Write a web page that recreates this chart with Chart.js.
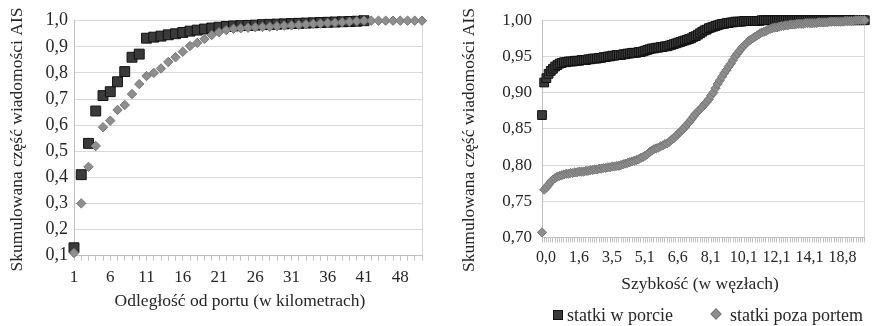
<!DOCTYPE html>
<html><head><meta charset="utf-8">
<script src="https://cdn.jsdelivr.net/npm/chart.js@4.4.1/dist/chart.umd.min.js"></script>
<style>
html,body{margin:0;padding:0;background:#fff;width:872px;height:326px;overflow:hidden;}
#wrap{position:relative;width:872px;height:326px;font-family:"Liberation Serif",serif;color:#262626;}
.cv{position:absolute;top:0;}
.lgt{position:absolute;font-size:18px;line-height:18px;white-space:nowrap;}
.lgm{position:absolute;box-sizing:border-box;}
</style></head><body>
<div id="wrap">
<canvas id="c1" class="cv" width="436" height="326" style="left:0;width:436px;height:326px"></canvas>
<canvas id="c2" class="cv" width="436" height="326" style="left:436px;width:436px;height:326px"></canvas>
<div id="legend"></div>
</div>
<script>
// ---------- DATA ----------
const seriesNames = ['statki w porcie', 'statki poza portem'];
const yTitle = 'Skumulowana część wiadomości AIS';
const distTitle = 'Odległość od portu (w kilometrach)';
const speedTitle = 'Szybkość (w węzłach)';

// Left chart: distance categories (km)
const distCategories = ['1','2','3','4','5','6','7','8','9','10','11','12','13','14','15','16','17','18','19','20',
  '21','22','23','24','25','26','27','28','29','30','31','32','33','34','35','36','37','38','39','40','41',
  '42','43','45','46','48','49','50','52'];
const distInPort = [0.13,0.41,0.53,0.654,0.713,0.728,0.766,0.805,0.860,0.872,
  0.933,0.937,0.941,0.946,0.950,0.955,0.960,0.964,0.968,0.972,
  0.975,0.978,0.980,0.981,0.982,0.983,0.985,0.986,0.987,0.988,
  0.989,0.990,0.991,0.992,0.993,0.994,0.995,0.996,0.997,0.998,1.000];
const distOutPort = [0.11,0.30,0.44,0.52,0.592,0.617,0.658,0.677,0.719,0.757,
  0.788,0.800,0.817,0.842,0.860,0.881,0.903,0.915,0.930,0.945,
  0.956,0.964,0.969,0.971,0.973,0.975,0.976,0.977,0.979,0.981,
  0.982,0.984,0.986,0.988,0.989,0.991,0.992,0.994,0.996,0.998,
  1.000,1.000,1.000,1.000,1.000,1.000,1.000,1.000,1.000];
const distYTicks = {min:0.1, max:1.0, step:0.1, decimals:1};

// Right chart: speed categories (knots)
const speedCategories = ['0,0','0,1','0,2','0,3','0,4','0,5','0,6','0,7','0,8','0,9','1,0','1,1','1,2','1,3','1,5',
  '1,6','1,7','1,8','1,9','2,0','2,1','2,3','2,4','2,5','2,7','2,8','2,9','3,1','3,2','3,3',
  '3,5','3,6','3,7','3,8','3,9','4,0','4,1','4,2','4,3','4,4','4,6','4,7','4,8','4,9','5,0',
  '5,1','5,2','5,3','5,4','5,5','5,6','5,7','5,8','5,9','6,0','6,1','6,2','6,3','6,4','6,5',
  '6,6','6,7','6,8','6,9','7,0','7,1','7,2','7,3','7,4','7,5','7,6','7,7','7,8','7,9','8,0',
  '8,1','8,2','8,3','8,5','8,6','8,7','8,9','9,0','9,1','9,3','9,4','9,5','9,7','9,8','9,9',
  '10,1','10,2','10,3','10,5','10,6','10,7','10,9','11,0','11,2','11,3','11,4','11,6','11,7','11,8','12,0',
  '12,1','12,2','12,3','12,5','12,6','12,8','12,9','13,0','13,2','13,3','13,5','13,6','13,7','13,9','14,0',
  '14,1','14,3','14,5','14,8','15,0','15,3','15,6','15,9','16,2','16,5','16,8','17,1','17,5','17,9','18,3',
  '18,8','19,2','19,6','20,0','20,5','21,0','21,6','22,3','23,0','24,1','25,5','27,0','30,2'];
const speedInPort = [
  0.869,0.914,0.920,0.926,0.930,0.933,0.936,0.938,0.940,0.941,
  0.942,0.942,0.943,0.943,0.943,0.944,0.944,0.944,0.945,0.945,
  0.945,0.946,0.946,0.947,0.947,0.947,0.948,0.948,0.949,0.949,
  0.950,0.950,0.951,0.951,0.952,0.952,0.952,0.953,0.953,0.954,
  0.954,0.955,0.955,0.955,0.956,0.956,0.957,0.958,0.959,0.960,
  0.961,0.961,0.962,0.962,0.963,0.963,0.964,0.964,0.965,0.966,
  0.967,0.968,0.969,0.970,0.971,0.972,0.973,0.974,0.975,0.977,
  0.978,0.980,0.982,0.984,0.986,0.987,0.989,0.990,0.991,0.992,
  0.993,0.994,0.995,0.995,0.996,0.996,0.997,0.997,0.998,0.998,
  0.998,0.998,0.999,0.999,0.999,0.999,0.999,0.999,0.999,0.999,
  1.000,1.000,1.000,1.000,1.000,1.000,1.000,1.000,1.000,1.000,
  1.000,1.000,1.000,1.000,1.000,1.000,1.000,1.000,1.000,1.000,
  1.000,1.000,1.000,1.000,1.000,1.000,1.000,1.000,1.000,1.000,
  1.000,1.000,1.000,1.000,1.000,1.000,1.000,1.000,1.000,1.000,
  1.000,1.000,1.000,1.000,1.000,1.000,1.000,1.000];
const speedOutPort = [
  0.707,0.766,0.769,0.773,0.777,0.780,0.782,0.784,0.785,0.786,
  0.787,0.788,0.788,0.789,0.789,0.790,0.790,0.791,0.791,0.791,
  0.792,0.792,0.793,0.793,0.794,0.794,0.795,0.795,0.796,0.796,
  0.797,0.797,0.798,0.798,0.799,0.799,0.800,0.801,0.802,0.803,
  0.804,0.805,0.806,0.807,0.808,0.810,0.811,0.813,0.815,0.818,
  0.820,0.822,0.823,0.824,0.826,0.827,0.829,0.830,0.832,0.835,
  0.837,0.840,0.843,0.846,0.849,0.852,0.856,0.859,0.863,0.867,
  0.871,0.874,0.877,0.880,0.884,0.887,0.891,0.896,0.900,0.906,
  0.912,0.917,0.922,0.927,0.931,0.936,0.940,0.945,0.950,0.954,
  0.958,0.962,0.965,0.968,0.971,0.973,0.975,0.977,0.979,0.981,
  0.983,0.984,0.985,0.987,0.988,0.989,0.990,0.990,0.991,0.992,
  0.992,0.993,0.993,0.994,0.994,0.994,0.995,0.995,0.995,0.995,
  0.996,0.996,0.996,0.996,0.996,0.996,0.997,0.997,0.997,0.997,
  0.997,0.998,0.998,0.998,0.998,0.998,0.998,0.998,0.999,0.999,
  0.999,0.999,0.999,1.000,1.000,1.000,1.000,1.000];
const speedYTicks = {min:0.70, max:1.00, step:0.05, decimals:2};

// ---------- STYLE ----------
const FONT = '"Liberation Serif", "Times New Roman", serif';
const TXT = '#262626';
const GRID = '#d9d9d9';
const AXIS = '#bfbfbf';
const BLACK_FILL = '#3a3a3a', BLACK_EDGE = '#111111';
const GRAY_FILL = '#8e8e8e', GRAY_EDGE = '#767676';

Chart.defaults.font.family = FONT;
Chart.defaults.color = TXT;

const axisTitlesPlugin = {
  id: 'axisTitles',
  afterDraw(chart, args, o) {
    const ctx = chart.ctx;
    ctx.save();
    ctx.fillStyle = TXT;
    ctx.font = o.size + 'px ' + FONT;
    ctx.textAlign = 'center';
    ctx.textBaseline = 'middle';
    ctx.fillText(o.xText, o.xc, o.xy);
    ctx.translate(o.yc, o.yy);
    ctx.rotate(-Math.PI / 2);
    ctx.fillText(o.yText, 0, 0);
    ctx.restore();
  }
};

function makeChart(el, cfg) {
  const n = cfg.labels.length;
  return new Chart(document.getElementById(el), {
    type: 'line',
    data: {
      labels: cfg.labels,
      datasets: [
        {label: seriesNames[0], data: cfg.inPort, showLine: false, pointStyle: 'rect',
         pointRadius: cfg.sq, pointHoverRadius: cfg.sq, backgroundColor: BLACK_FILL, borderColor: BLACK_EDGE,
         pointBorderWidth: 1, order: 1, clip: false},
        {label: seriesNames[1], data: cfg.outPort, showLine: false, pointStyle: 'rectRot',
         pointRadius: cfg.dm, pointHoverRadius: cfg.dm, backgroundColor: GRAY_FILL, borderColor: GRAY_EDGE,
         pointBorderWidth: 1, order: 0, clip: false}
      ]
    },
    plugins: [axisTitlesPlugin],
    options: {
      responsive: false, animation: false, events: [],
      layout: {padding: cfg.pad},
      plugins: {
        legend: {display: false}, tooltip: {enabled: false},
        axisTitles: cfg.titles
      },
      scales: {
        x: {
          type: 'category', offset: false,
          border: {color: AXIS},
          grid: {drawOnChartArea: true, drawTicks: true, tickLength: 5,
                 color: c => c.index === n - 1 ? GRID : 'rgba(0,0,0,0)', tickColor: '#c4c4c4'},
          ticks: {autoSkip: false, maxRotation: 0, minRotation: 0, padding: cfg.xPad, labelOffset: cfg.xOff,
                  font: {size: cfg.xFont}, color: TXT,
                  callback: (v, i) => (i % cfg.every === 0 && i <= cfg.lastLabel) ? cfg.labels[i] : ''},
          afterFit: s => { s.height = cfg.xH; }
        },
        y: {
          min: cfg.yt.min, max: cfg.yt.max,
          border: {color: AXIS},
          grid: {color: GRID, drawTicks: false},
          ticks: {stepSize: cfg.yt.step, padding: cfg.yPad, font: {size: cfg.yFont}, color: TXT,
                  callback: v => Number(v).toFixed(cfg.yt.decimals).replace('.', ',')},
          afterFit: s => { s.width = cfg.yW; }
        }
      }
    }
  });
}

makeChart('c1', {
  labels: distCategories, inPort: distInPort, outPort: distOutPort, yt: distYTicks,
  sq: 7, dm: 4.7, every: 5, lastLabel: 45,
  pad: {left: 0, right: 14, top: 20.7, bottom: 0},
  xH: 70.4, yW: 74, xPad: 7, xOff: 0, xFont: 17, yFont: 18, yPad: 6,
  titles: {size: 17.5, xText: distTitle, xc: 240, xy: 301, yText: yTitle, yc: 17, yy: 139.5}
});

makeChart('c2', {
  labels: speedCategories, inPort: speedInPort, outPort: speedOutPort, yt: speedYTicks,
  sq: 6.2, dm: 4.6, every: 15, lastLabel: 135,
  pad: {left: 0, right: 2, top: 17.3, bottom: 0},
  xH: 88.5, yW: 106, xPad: 6, xOff: 4, xFont: 16, yFont: 17, yPad: 10,
  titles: {size: 17.5, xText: speedTitle, xc: 264, xy: 284.6, yText: yTitle, yc: 33, yy: 140}
});

// HTML legend (below right chart)
(function () {
  const lg = document.getElementById('legend');
  const items = [
    {name: seriesNames[0], mk: 'left:553px;top:310px;width:10px;height:10px;background:' + BLACK_FILL + ';border:1px solid ' + BLACK_EDGE + ';', tx: 567},
    {name: seriesNames[1], mk: 'left:712px;top:310px;width:8px;height:8px;background:' + GRAY_FILL + ';border:1px solid ' + GRAY_EDGE + ';transform:rotate(45deg);', tx: 730}
  ];
  items.forEach(it => {
    const m = document.createElement('div'); m.className = 'lgm'; m.style.cssText = it.mk; lg.appendChild(m);
    const t = document.createElement('div'); t.className = 'lgt'; t.style.left = it.tx + 'px'; t.style.top = '306px';
    t.textContent = it.name; lg.appendChild(t);
  });
})();
</script>
</body></html>
